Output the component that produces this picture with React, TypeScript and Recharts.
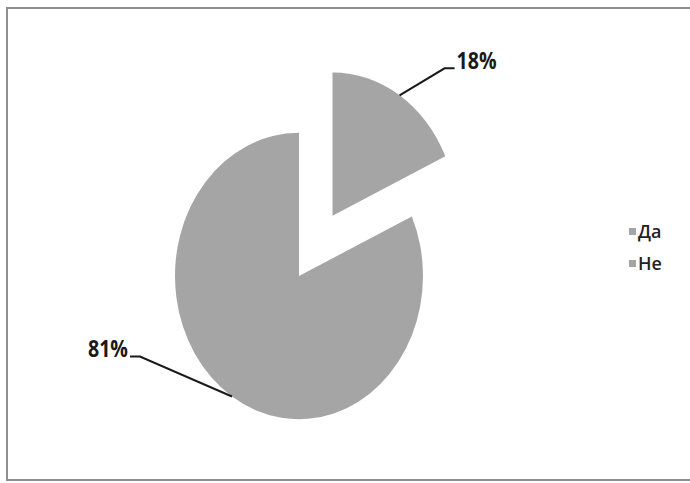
import React from "react";
import { PieChart, Pie, Cell, Legend } from "recharts";

const categories = ["Да", "Не"];
const shares = [18, 81];

const data = categories.map((name, i) => ({ name, value: shares[i] }));

const GREY = "#a5a5a5";
const CX = 299;
const CY = 276;
const R = 124;
const SY = 1.155; // original pie is a bit taller than wide
const EXPLODE = 62;
const RAD = Math.PI / 180;

const total = shares.reduce((a, b) => a + b, 0);
const daMid = 90 - (360 * shares[0]) / total / 2;
const daCx = CX + EXPLODE * Math.cos(daMid * RAD);
const daCy = CY - EXPLODE * Math.sin(daMid * RAD);

// elbow offsets of the leader lines, per slice
const elbows = [
  { dx: 45, dy: -27, run: 10 },
  { dx: -92, dy: -40, run: -10 },
];

const font = '"Open Sans", "Noto Sans", sans-serif';

function makeLabel(only: number) {
  return (props: any) => {
    const { cx, cy, midAngle, outerRadius, index, value } = props;
    if (index !== only) return null;
    const x0 = cx + outerRadius * Math.cos(midAngle * RAD);
    const yRaw = cy - outerRadius * Math.sin(midAngle * RAD);
    const y0 = CY + (yRaw - CY) * SY;
    const e = elbows[index];
    const x1 = x0 + e.dx;
    const y1 = y0 + e.dy;
    const x2 = x1 + e.run;
    const right = e.run > 0;
    return (
      <g>
        <polyline
          points={`${x0},${y0} ${x1},${y1} ${x2},${y1}`}
          fill="none"
          stroke="#1a1a1a"
          strokeWidth={2}
        />
        <text
          x={right ? x2 + 2 : x2 - 42}
          y={y1 + 1}
          textAnchor="start"
          textLength={40}
          lengthAdjust="spacingAndGlyphs"
          fontFamily={font}
          fontWeight="bold"
          fontSize={23}
          fill="#1a1a1a"
        >
          {`${value}%`}
        </text>
      </g>
    );
  };
}

function LegendBox() {
  return (
    <div style={{ fontFamily: font, fontSize: 18, fontWeight: 600, color: "#222" }}>
      {categories.map((c) => (
        <div key={c} style={{ display: "flex", alignItems: "center", height: 32 }}>
          <span
            style={{ width: 7, height: 7, background: GREY, marginRight: 2, display: "inline-block" }}
          />
          <span>{c}</span>
        </div>
      ))}
    </div>
  );
}

export default function App() {
  return (
    <div
      style={{
        position: "absolute",
        left: 0,
        top: 0,
        width: 690,
        height: 483,
        overflow: "hidden",
        background: "#fff",
      }}
    >
      <style>{`.recharts-pie .recharts-sector { transform-origin: ${CX}px ${CY}px; transform: scaleY(${SY}); }`}</style>
      <div
        style={{
          position: "absolute",
          left: 6,
          top: 7,
          width: 700,
          height: 474,
          border: "2px solid #8f8f8f",
          boxSizing: "border-box",
        }}
      />
      <div style={{ position: "absolute", left: 0, top: 0 }}>
        <PieChart width={690} height={483} margin={{ top: 0, right: 0, bottom: 0, left: 0 }}>
          <Pie
            data={data}
            dataKey="value"
            nameKey="name"
            cx={CX}
            cy={CY}
            outerRadius={R}
            startAngle={90}
            endAngle={-270}
            stroke="none"
            labelLine={false}
            label={makeLabel(1)}
            isAnimationActive={false}
          >
            {data.map((d, i) => (
              <Cell key={d.name} fill={i === 1 ? GREY : "none"} />
            ))}
          </Pie>
          <Pie
            data={data}
            dataKey="value"
            nameKey="name"
            cx={daCx}
            cy={daCy}
            outerRadius={R}
            startAngle={90}
            endAngle={-270}
            stroke="none"
            labelLine={false}
            label={makeLabel(0)}
            isAnimationActive={false}
          >
            {data.map((d, i) => (
              <Cell key={d.name} fill={i === 0 ? GREY : "none"} />
            ))}
          </Pie>
          <Legend
            layout="vertical"
            align="right"
            verticalAlign="top"
            wrapperStyle={{ left: 629, top: 215, width: 60 }}
            content={() => <LegendBox />}
          />
        </PieChart>
      </div>
    </div>
  );
}
